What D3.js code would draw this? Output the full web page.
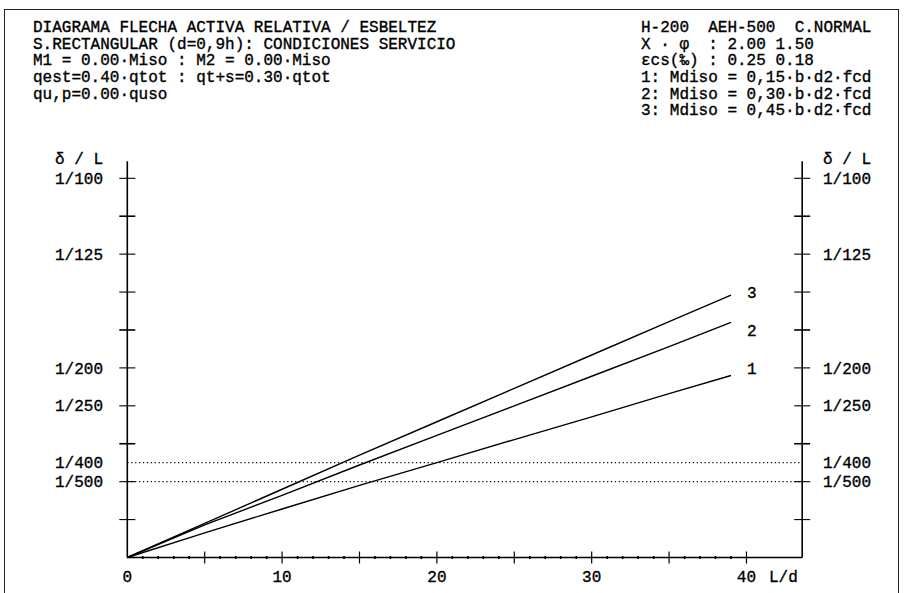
<!DOCTYPE html>
<html>
<head>
<meta charset="utf-8">
<script src="https://cdn.jsdelivr.net/npm/d3@7"></script>
<style>
  html, body { margin: 0; padding: 0; background: #fff; }
  svg { display: block; }
  text { font-family: "Liberation Mono", "DejaVu Sans Mono", monospace; font-size: 16px; fill: #000; stroke: #000; stroke-width: 0.35px; white-space: pre; }
</style>
</head>
<body>
<svg id="chart" width="905" height="593"></svg>
<script>
// Header text blocks
const headerLeft = [
  "DIAGRAMA FLECHA ACTIVA RELATIVA / ESBELTEZ",
  "S.RECTANGULAR (d=0,9h): CONDICIONES SERVICIO",
  "M1 = 0.00·Miso : M2 = 0.00·Miso",
  "qest=0.40·qtot : qt+s=0.30·qtot",
  "qu,p=0.00·quso"
];
const headerRight = [
  "H-200  AEH-500  C.NORMAL",
  "X · φ  : 2.00 1.50",
  "εcs(‰) : 0.25 0.18",
  "1: Mdiso = 0,15·b·d2·fcd",
  "2: Mdiso = 0,30·b·d2·fcd",
  "3: Mdiso = 0,45·b·d2·fcd"
];

// Slenderness L/d and relative deflection δ/L (in ‰) for each curve
const slenderness = [0, 5, 10, 15, 20, 25, 30, 35, 39];
const curve1 = [0, 0.65, 1.28, 1.90, 2.50, 3.11, 3.71, 4.32, 4.80];
const curve2 = [0, 0.86, 1.64, 2.44, 3.22, 4.00, 4.78, 5.56, 6.20];
const curve3 = [0, 0.90, 1.80, 2.70, 3.58, 4.46, 5.34, 6.22, 6.92];
const curveNames = ["1", "2", "3"];

// Axis ticks and labels
const xLabelValues = [0, 10, 20, 30, 40];
const xAxisTitle = "L/d";
const yAxisTitle = "δ / L";
const yLabelDenoms = [100, 125, 200, 250, 400, 500];
const limitDenoms = [400, 500];

const svg = d3.select("#chart");

const x = d3.scaleLinear().domain([0, 43.6]).range([127.3, 802.2]);
const y = d3.scaleLinear().domain([0, 10]).range([557.5, 178.3]);
const yTop = 10.45;

// outer frame
svg.append("rect")
  .attr("x", 4.5).attr("y", 9.5).attr("width", 894).attr("height", 600)
  .attr("fill", "none").attr("stroke", "#222").attr("stroke-width", 1);

// header text
const lineH = 16.55;
svg.append("g").selectAll("text").data(headerLeft).join("text")
  .attr("x", 33).attr("y", (d, i) => 26.7 + i * lineH).attr("dy", "0.35em")
  .text(d => d);
svg.append("g").selectAll("text").data(headerRight).join("text")
  .attr("x", 641).attr("y", (d, i) => 26.7 + i * lineH).attr("dy", "0.35em")
  .text(d => d);

const x0 = x(0), x1 = x.range()[1];

// limit lines (dotted)
svg.append("g").selectAll("line").data(limitDenoms).join("line")
  .attr("x1", x0).attr("x2", x1)
  .attr("y1", d => y(1000 / d)).attr("y2", d => y(1000 / d))
  .attr("stroke", "#111").attr("stroke-width", 1.2)
  .attr("stroke-dasharray", "1.3,2.6");

// axes frame lines
const axes = svg.append("g").attr("stroke", "#000").attr("stroke-width", 1.6).attr("fill", "none");
axes.append("line").attr("x1", x0).attr("x2", x0).attr("y1", y(0)).attr("y2", y(yTop));
axes.append("line").attr("x1", x1).attr("x2", x1).attr("y1", y(0)).attr("y2", y(yTop));
axes.append("line").attr("x1", x0).attr("x2", x1).attr("y1", y(0)).attr("y2", y(0));

// vertical-axis cross ticks every 1‰
const yTicks = d3.range(1, 11);
[x0, x1].forEach(ax => {
  svg.append("g").selectAll("line").data(yTicks).join("line")
    .attr("x1", ax - 8).attr("x2", ax + 8)
    .attr("y1", d => y(d)).attr("y2", d => y(d))
    .attr("stroke", "#000").attr("stroke-width", d => d % 3 === 0 ? 1.6 : 1.1);
});

// horizontal-axis ticks
svg.append("g").selectAll("line").data(d3.range(1, 41)).join("line")
  .attr("x1", d => x(d)).attr("x2", d => x(d))
  .attr("y1", d => y(0) - (d % 5 === 0 ? 6 : 1.5))
  .attr("y2", d => y(0) + (d % 5 === 0 ? 6 : 1.5))
  .attr("stroke", "#000").attr("stroke-width", d => d % 5 === 0 ? 1.2 : 1.6);

// y labels both sides
const yLabel = svg.append("g");
yLabel.selectAll("text.l").data(yLabelDenoms).join("text").attr("class", "l")
  .attr("x", 103).attr("y", d => y(1000 / d)).attr("dy", "0.35em")
  .attr("text-anchor", "end").text(d => "1/" + d);
yLabel.selectAll("text.r").data(yLabelDenoms).join("text").attr("class", "r")
  .attr("x", 823).attr("y", d => y(1000 / d)).attr("dy", "0.35em")
  .text(d => "1/" + d);
yLabel.append("text").attr("x", 103).attr("y", y(10) - 19.5).attr("dy", "0.35em")
  .attr("text-anchor", "end").text(yAxisTitle);
yLabel.append("text").attr("x", 823).attr("y", y(10) - 19.5).attr("dy", "0.35em")
  .text(yAxisTitle);

// x labels
svg.append("g").selectAll("text").data(xLabelValues).join("text")
  .attr("x", d => x(d)).attr("y", 576).attr("dy", "0.35em")
  .attr("text-anchor", "middle").text(d => d);
svg.append("text").attr("x", 769).attr("y", 576).attr("dy", "0.35em").text(xAxisTitle);

// curves
const curves = [curve1, curve2, curve3];
const line = d3.line().x(d => x(d[0])).y(d => y(d[1]));
svg.append("g").selectAll("path").data(curves).join("path")
  .attr("d", c => line(slenderness.map((s, i) => [s, c[i]])))
  .attr("fill", "none").attr("stroke", "#000").attr("stroke-width", 1.4);

// curve labels next to their ends
svg.append("g").selectAll("text").data(curves).join("text")
  .attr("x", x(slenderness[slenderness.length - 1]) + 16)
  .attr("y", c => y(Math.round(c[c.length - 1])))
  .attr("dy", "0.35em")
  .text((c, i) => curveNames[i]);
</script>
</body>
</html>
